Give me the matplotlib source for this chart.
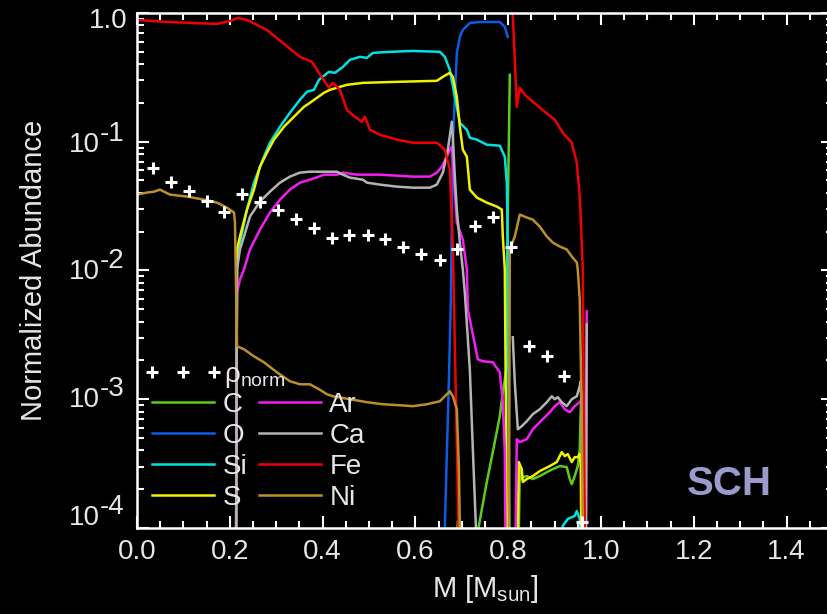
import matplotlib.pyplot as plt
import numpy as np
from matplotlib.ticker import FixedLocator, LogLocator, NullFormatter, MultipleLocator, FuncFormatter

plt.rcParams['font.family'] = ['Liberation Sans', 'DejaVu Sans']
plt.rcParams['mathtext.default'] = 'regular'

nan = np.nan
LOW = -4.5  # below the plotted range, the line runs off the bottom

# mass coordinate [Msun] and log10 of the normalized abundance, nan = break in the profile
m_c = [0.6849, 0.6914, 0.6978, nan,
       0.7323, 0.7366, 0.7538, 0.7667, 0.7818, 0.7883, 0.7969, 0.7975, 0.8034, nan,
       0.8206, 0.8249, 0.8271, 0.8314, 0.8400, 0.8529, 0.8680, 0.8831, 0.8960, 0.9110,
       0.9261, 0.9326, 0.9369, 0.9433, 0.9498, 0.9541, 0.9563, 0.9584, 0.9606]
c = [LOW, -3.946, LOW, nan,
     LOW, -3.984, -3.643, -3.411, -3.132, -2.946, -2.744, -1.915, -0.481, nan,
     LOW, -3.543, -3.620, -3.605, -3.597, -3.620, -3.597, -3.566, -3.543, -3.519,
     -3.527, -3.620, -3.659, -3.597, -3.519, -3.388, -3.078, -2.938, LOW]

m_o = [0.6612, 0.6634, 0.6720, 0.6763, 0.6806, 0.6892, 0.6957, 0.7021, 0.7172, 0.7387,
       0.7818, 0.7926, 0.7991]
o = [LOW, -3.984, -2.868, -2.225, -1.008, -0.310, -0.186, -0.132, -0.078, -0.070,
     -0.070, -0.109, -0.186]

m_si = [0.2132, 0.2154, 0.2218, 0.2369, 0.2520, 0.2735, 0.2865, 0.3080, 0.3295, 0.3511,
        0.3661, 0.3812, 0.3920, 0.4135, 0.4264, 0.4437, 0.4588, 0.4803, 0.4954, 0.5083,
        0.5449, 0.5945, 0.6526, 0.6634, 0.6741, 0.6849, 0.6957, 0.7108, 0.7172, 0.7323,
        0.7538, 0.7818, 0.7926, 0.7969, 0.7991, 0.8012, 0.8034, nan,
        0.9153, 0.9175, 0.9282, 0.9433, 0.9477, 0.9541, 0.9584]
si = [LOW, -1.938, -1.783, -1.527, -1.318, -1.116, -1.008, -0.884, -0.775, -0.674,
      -0.612, -0.597, -0.519, -0.457, -0.465, -0.419, -0.364, -0.341, -0.349, -0.310,
      -0.302, -0.295, -0.302, -0.341, -0.442, -0.651, -0.853, -0.907, -0.969, -0.984,
      -1.023, -1.031, -1.116, -1.318, -1.783, -3.411, LOW, nan,
      LOW, -3.984, -3.930, -3.907, -3.868, -3.930, LOW]

m_s = [0.2132, 0.2154, 0.2218, 0.2369, 0.2520, 0.2649, 0.2800, 0.2951, 0.3166, 0.3382,
       0.3597, 0.3726, 0.3877, 0.4028, 0.4157, 0.4308, 0.4523, 0.4868, 0.5600, 0.6461,
       0.6591, 0.6741, 0.6806, 0.6892, 0.6957, 0.7021, 0.7108, 0.7172, 0.7323, 0.7538,
       0.7754, 0.7861, 0.7883, 0.7926, 0.7969, 0.7991, nan,
       0.8184, 0.8227, 0.8292, 0.8314, 0.8400, 0.8529, 0.8680, 0.8895, 0.9046, 0.9153,
       0.9218, 0.9282, 0.9369, 0.9433, 0.9498, 0.9541, 0.9563, 0.9584]
s = [LOW, -1.837, -1.736, -1.527, -1.372, -1.194, -1.085, -0.984, -0.884, -0.806,
     -0.729, -0.698, -0.659, -0.620, -0.597, -0.581, -0.558, -0.543, -0.535, -0.527,
     -0.496, -0.465, -0.496, -0.651, -0.884, -1.062, -1.116, -1.372, -1.434, -1.473,
     -1.504, -1.527, -1.736, -1.992, -3.984, LOW, nan,
     LOW, -3.488, -3.543, -3.643, -3.620, -3.597, -3.558, -3.519, -3.488, -3.411,
     -3.442, -3.426, -3.488, -3.450, -3.450, -3.426, -3.519, LOW]

m_ar = [0.2132, 0.2154, 0.2218, 0.2305, 0.2434, 0.2649, 0.2865, 0.3080, 0.3295, 0.3511,
        0.3726, 0.3920, 0.4028, 0.4308, 0.4437, 0.4738, 0.5234, 0.5945, 0.6311, 0.6461,
        0.6569, 0.6677, 0.6741, 0.6784, 0.6892, 0.7021, 0.7108, 0.7129, 0.7344, 0.7452,
        0.7667, 0.7818, 0.7883, 0.7926, 0.7948, nan,
        0.8141, 0.8184, 0.8249, 0.8400, 0.8529, 0.8744, 0.8895, 0.9003, 0.9110, 0.9218,
        0.9326, 0.9433, 0.9541, 0.9584, 0.9670, 0.9692]
ar = [LOW, -2.171, -2.070, -1.992, -1.837, -1.682, -1.550, -1.450, -1.372, -1.318,
      -1.295, -1.271, -1.256, -1.256, -1.240, -1.256, -1.256, -1.271, -1.271, -1.240,
      -1.194, -1.116, -1.062, -1.039, -1.628, -1.760, -1.992, -2.302, -2.690, -2.705,
      -2.713, -2.791, -3.023, -3.411, LOW, nan,
      LOW, -3.310, -3.333, -3.310, -3.233, -3.155, -3.101, -3.054, -3.023, -3.078,
      -3.101, -3.054, -3.023, -3.000, LOW, -2.318]

m_ca = [0.2132, 0.2154, 0.2218, 0.2305, 0.2434, 0.2649, 0.2865, 0.3080, 0.3295, 0.3511,
        0.3726, 0.4308, 0.4437, 0.4588, 0.4868, 0.4954, 0.5234, 0.5600, 0.5945, 0.6311,
        0.6461, 0.6591, 0.6698, 0.6784, 0.6806, 0.6849, 0.6892, 0.6957, 0.7021, 0.7064,
        0.7172, 0.7237, 0.7302, 0.7323, nan,
        0.8098, 0.8141, 0.8206, 0.8292, 0.8400, 0.8529, 0.8680, 0.8831, 0.8938, 0.9003,
        0.9067, 0.9153, 0.9261, 0.9369, 0.9477, 0.9541, 0.9563, 0.9670, 0.9692]
ca = [LOW, -1.992, -1.837, -1.736, -1.581, -1.465, -1.388, -1.318, -1.271, -1.240,
      -1.233, -1.233, -1.256, -1.279, -1.295, -1.318, -1.333, -1.349, -1.357, -1.357,
      -1.333, -1.240, -1.062, -0.845, -0.961, -1.271, -1.527, -1.783, -1.992, -2.171,
      -2.767, -3.388, -3.984, LOW, nan,
      -2.519, -2.868, -3.233, -3.209, -3.171, -3.116, -3.078, -3.023, -2.977, -3.000,
      -2.984, -3.023, -3.054, -3.000, -2.977, -2.899, -2.860, LOW, -2.419]

m_fe = [0.0000, 0.0646, 0.1723, 0.2003, 0.2175, 0.2369, 0.2800, 0.3144, 0.3511, 0.3769,
        0.3920, 0.4135, 0.4221, 0.4372, 0.4523, 0.4695, 0.4846, 0.4911, 0.5018, 0.5234,
        0.5600, 0.5945, 0.6461, 0.6634, 0.6741, 0.6806, 0.6957, nan,
        0.8077, 0.8098, 0.8184, 0.8249, 0.8357, 0.8680, 0.9003, 0.9175, 0.9369, 0.9477,
        0.9541, 0.9584, 0.9606, 0.9649, 0.9670]
fe = [-0.054, -0.070, -0.085, -0.062, -0.039, -0.054, -0.132, -0.233, -0.341, -0.380,
      -0.465, -0.581, -0.543, -0.597, -0.752, -0.806, -0.845, -0.806, -0.907, -0.946,
      -0.984, -1.008, -1.008, -1.062, -1.217, -1.814, LOW, nan,
      0.05, -0.016, -0.729, -0.581, -0.636, -0.736, -0.829, -0.930, -1.008, -1.163,
      -1.426, -1.783, -1.992, -3.984, LOW]

m_ni = [0.0000, 0.0215, 0.0366, 0.0495, 0.0582, 0.0711, 0.1077, 0.1443, 0.1723, 0.1938,
        0.2089, 0.2111, 0.2154, 0.2305, 0.2520, 0.2735, 0.3015, 0.3295, 0.3511, 0.3726,
        0.3920, 0.4092, 0.4221, 0.4588, 0.4954, 0.5298, 0.5665, 0.5945, 0.6246, 0.6526,
        0.6677, 0.6741, 0.6806, 0.6892, 0.6935, 0.6957, 0.6978, nan,
        0.8012, 0.8034, 0.8141, 0.8249, 0.8400, 0.8529, 0.8680, 0.8831, 0.8960, 0.9110,
        0.9261, 0.9369, 0.9477, 0.9498, 0.9541, 0.9584, 0.9606, 0.9620]
ni = [-1.411, -1.395, -1.388, -1.372, -1.388, -1.411, -1.426, -1.450, -1.473, -1.512,
      -1.550, -1.628, -2.589, -2.612, -2.667, -2.713, -2.791, -2.860, -2.884, -2.884,
      -2.922, -2.961, -2.977, -3.000, -3.023, -3.039, -3.047, -3.054, -3.039, -3.016,
      -2.961, -2.938, -2.977, -3.078, -3.519, -3.984, LOW, nan,
      LOW, -1.837, -1.736, -1.566, -1.589, -1.605, -1.659, -1.736, -1.783, -1.814,
      -1.837, -1.891, -1.938, -1.992, -2.225, -3.132, -3.984, LOW]

# normalized density, plotted as plus markers
m_rho = [0.035, 0.073, 0.112, 0.151, 0.187, 0.226, 0.265, 0.304, 0.342, 0.381,
         0.420, 0.457, 0.498, 0.534, 0.573, 0.612, 0.653, 0.689, 0.728, 0.767,
         0.806, 0.844, 0.883, 0.920, 0.958]
rho = [0.0628, 0.0490, 0.0417, 0.0349, 0.0287, 0.0395, 0.0343, 0.0297, 0.0249, 0.0212,
       0.0180, 0.0190, 0.0190, 0.0174, 0.0153, 0.0135, 0.0120, 0.0146, 0.0223, 0.0262,
       0.0153, 0.00258, 0.00216, 0.00151, 0.000111]

species = [('C', m_c, c, '#5ccc1a'),
           ('O', m_o, o, '#0c5ce6'),
           ('Si', m_si, si, '#00e2e2'),
           ('S', m_s, s, '#f2f200'),
           ('Ar', m_ar, ar, '#f21ef2'),
           ('Ca', m_ca, ca, '#b4b4b4'),
           ('Fe', m_fe, fe, '#f00000'),
           ('Ni', m_ni, ni, '#bb8f2a')]

# y tick labels: exponent, vertical nudge of the label in pixels
ytick_exp = [0, -1, -2, -3, -4]
ytick_dy = [-8, -3, -2, -1, 10]

txt = '#e6e6e6'
fig = plt.figure(figsize=(8.28, 6.14), dpi=100, facecolor='black')
ax = fig.add_axes([0.1655, 0.1401, 0.8406, 0.8388], facecolor='black')

lines = []
for name, mm, lg, col in species:
    ln, = ax.plot(mm, 10 ** np.array(lg), color=col, lw=1.8, label=name)
    lines.append(ln)

pts, = ax.plot(m_rho, rho, ls='none', marker='+', ms=9, mew=2.2, color='white',
               zorder=5, label=r'ρ$_{norm}$')

ax.set_yscale('log')
ax.set_xlim(0, 1.5)
ax.set_ylim(1e-4, 1.0)

ax.xaxis.set_major_locator(MultipleLocator(0.2))
ax.xaxis.set_minor_locator(MultipleLocator(0.05))
ax.xaxis.set_major_formatter(FuncFormatter(lambda v, p: f'{v:.1f}'))
ax.yaxis.set_major_locator(FixedLocator([10.0 ** e for e in ytick_exp]))
ax.yaxis.set_minor_locator(LogLocator(base=10, subs=np.arange(2, 10)))
ax.yaxis.set_minor_formatter(NullFormatter())
ax.yaxis.set_major_formatter(NullFormatter())

ax.tick_params(which='both', direction='in', top=True, right=True, color='white',
               labelcolor=txt, labelsize=20, width=1.5)
ax.tick_params(which='major', length=8.5)
ax.tick_params(which='minor', length=5)
ax.tick_params(axis='x', pad=8)
for sp in ax.spines.values():
    sp.set_color('white')
    sp.set_linewidth(1.8)

# log labels with a full-size, raised exponent
for e, dy in zip(ytick_exp, ytick_dy):
    if e == 0:
        ax.annotate('1.0', xy=(0, 1.0), xycoords=('axes fraction', 'data'),
                    xytext=(-10, dy), textcoords='offset pixels',
                    ha='right', va='center', fontsize=20, color=txt)
    else:
        ax.annotate('10', xy=(0, 10.0 ** e), xycoords=('axes fraction', 'data'),
                    xytext=(-37, dy), textcoords='offset pixels',
                    ha='right', va='center', fontsize=20, color=txt)
        ax.annotate(f'-{-e}', xy=(0, 10.0 ** e), xycoords=('axes fraction', 'data'),
                    xytext=(-37, dy + 11), textcoords='offset pixels',
                    ha='left', va='center', fontsize=20, color=txt)

ax.text(-0.148, 0.5, 'Normalized Abundance', transform=ax.transAxes, rotation=90,
        ha='center', va='center', fontsize=21, color=txt)
ax.set_xlabel('M [M$_{sun}$]', fontsize=21, color=txt, labelpad=6)

leg1 = ax.legend(handles=[pts], loc='upper left', bbox_to_anchor=(0.0096, 0.323),
                 frameon=False, numpoints=3, fontsize=20, labelcolor=txt,
                 handlelength=2.83, handletextpad=0.05, borderpad=0, borderaxespad=0)
ax.add_artist(leg1)
ax.legend(handles=lines, loc='upper left', bbox_to_anchor=(0.0216, 0.264), ncol=2,
          frameon=False, fontsize=20, labelcolor=txt, handlelength=2.23,
          handletextpad=0.3, columnspacing=0.43, labelspacing=0.18,
          borderpad=0, borderaxespad=0)

ax.text(0.79, 0.064, 'SCH', transform=ax.transAxes, fontsize=29, fontweight='bold',
        color='#9a9acb', ha='left', va='baseline')

fig.savefig('out.png', dpi=100, facecolor='black')
